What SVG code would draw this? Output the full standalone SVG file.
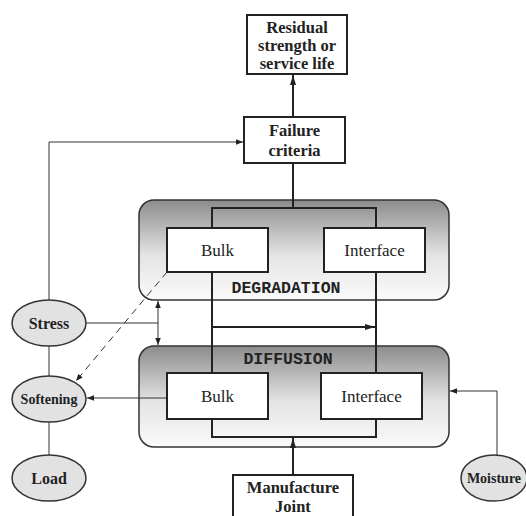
<svg xmlns="http://www.w3.org/2000/svg" width="526" height="516" viewBox="0 0 526 516">
<style>
.box{fill:#fff;stroke:#222;stroke-width:2}
.panel{fill:url(#g);stroke:#333;stroke-width:1.5}
.ell{fill:#e2e2e2;stroke:#333;stroke-width:1.5}
.lbl{font-family:"Liberation Serif",serif;font-size:17px;fill:#222;text-anchor:middle}
.b{font-weight:bold;font-size:16.5px}
.mono{font-family:"Liberation Mono",monospace;font-weight:bold;font-size:16.5px;fill:#222;text-anchor:middle}
.thick{stroke:#222;stroke-width:2;fill:none}
.thin{stroke:#333;stroke-width:1;fill:none}
</style>
<defs>
<linearGradient id="g" x1="0" y1="0" x2="0" y2="1">
<stop offset="0" stop-color="#8c8c8c"/>
<stop offset="0.55" stop-color="#e4e4e4"/>
<stop offset="1" stop-color="#fafafa"/>
</linearGradient>
<marker id="a" viewBox="0 0 10 10" refX="10" refY="5" markerWidth="7" markerHeight="7" orient="auto-start-reverse" markerUnits="userSpaceOnUse">
<path d="M0,1 L10,5 L0,9 z" fill="#222"/>
</marker>
<marker id="ab" viewBox="0 0 10 10" refX="10" refY="5" markerWidth="10" markerHeight="10" orient="auto" markerUnits="userSpaceOnUse">
<path d="M0,2 L10,5 L0,8 z" fill="#222"/>
</marker>
</defs>

<g id="degradation">
<rect class="panel" x="139" y="200" width="310" height="100" rx="15"/>
<text class="mono" x="286" y="293">DEGRADATION</text>
</g>
<g id="diffusion">
<rect class="panel" x="139" y="346" width="310" height="101" rx="15"/>
<text class="mono" x="288" y="364">DIFFUSION</text>
</g>

<g id="connectors">
<line class="thick" x1="293" y1="117" x2="293" y2="75" marker-end="url(#ab)"/>
<line class="thick" x1="293" y1="163" x2="293" y2="208"/>
<polyline class="thick" points="212,228 212,208 376,208 376,228"/>
<line class="thick" x1="212" y1="272" x2="212" y2="373"/>
<line class="thick" x1="376" y1="272" x2="376" y2="373"/>
<line class="thick" x1="212" y1="327" x2="375" y2="327" marker-end="url(#ab)"/>
<polyline class="thick" points="212,419 212,437 376,437 376,419"/>
<line class="thick" x1="293" y1="475" x2="293" y2="438" marker-end="url(#ab)"/>
<polyline class="thin" points="49,300 49,142 243,142" marker-end="url(#a)"/>
<line class="thin" x1="86" y1="323" x2="158" y2="323"/>
<line class="thin" x1="158" y1="301" x2="158" y2="345" marker-start="url(#a)" marker-end="url(#a)"/>
<line class="thin" x1="49" y1="346" x2="49" y2="376"/>
<line class="thin" x1="49" y1="422" x2="49" y2="455"/>
<line class="thin" x1="167" y1="398" x2="87" y2="398" marker-end="url(#a)"/>
<line class="thin" x1="167" y1="272" x2="76" y2="381" stroke-dasharray="7,5" marker-end="url(#a)"/>
<polyline class="thin" points="497,455 497,391 450,391" marker-end="url(#a)"/>
</g>

<g id="residual">
<rect class="box" x="247" y="15" width="100" height="59"/>
<text class="lbl b" x="297" y="33">Residual</text>
<text class="lbl b" x="297" y="51">strength or</text>
<text class="lbl b" x="297" y="69">service life</text>
</g>
<g id="failure">
<rect class="box" x="244" y="117" width="101" height="46"/>
<text class="lbl b" x="294.5" y="136">Failure</text>
<text class="lbl b" x="294.5" y="156">criteria</text>
</g>
<g id="deg-bulk">
<rect class="box" x="167" y="228" width="101" height="44"/>
<text class="lbl" x="217.5" y="256">Bulk</text>
</g>
<g id="deg-interface">
<rect class="box" x="324" y="228" width="101" height="44"/>
<text class="lbl" x="374.5" y="256">Interface</text>
</g>
<g id="dif-bulk">
<rect class="box" x="167" y="373" width="101" height="46"/>
<text class="lbl" x="217.5" y="402">Bulk</text>
</g>
<g id="dif-interface">
<rect class="box" x="321" y="373" width="101" height="46"/>
<text class="lbl" x="371.5" y="402">Interface</text>
</g>
<g id="manufacture">
<rect class="box" x="233" y="475" width="120" height="50"/>
<text class="lbl b" x="293" y="493">Manufacture</text>
<text class="lbl b" x="293" y="512">Joint</text>
</g>
<g id="stress">
<ellipse class="ell" cx="49" cy="323" rx="37" ry="23"/>
<text class="lbl b" x="49" y="329" style="font-size:16px">Stress</text>
</g>
<g id="softening">
<ellipse class="ell" cx="49" cy="399" rx="37" ry="23"/>
<text class="lbl b" x="49" y="404" style="font-size:14px">Softening</text>
</g>
<g id="load">
<ellipse class="ell" cx="49" cy="478" rx="37" ry="23"/>
<text class="lbl b" x="49" y="484" style="font-size:16px">Load</text>
</g>
<g id="moisture">
<ellipse class="ell" cx="494" cy="478" rx="33" ry="23"/>
<text class="lbl b" x="494" y="483" style="font-size:14px">Moisture</text>
</g>
</svg>
